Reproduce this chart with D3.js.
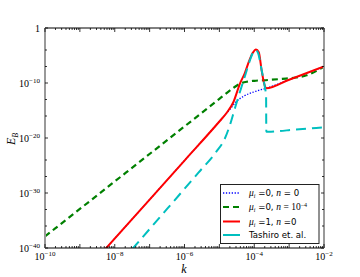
<!DOCTYPE html>
<html>
<head>
<meta charset="utf-8">
<script src="https://cdn.jsdelivr.net/npm/d3@7"></script>
<style>
  body { margin: 0; background: #fff; }
  svg { display: block; }
</style>
</head>
<body>
<svg id="chart"></svg>
<script>
// ------------------------------------------------------------- data (log10 values)
const xTickExps = [-10, -8, -6, -4, -2];
const yTickExps = [0, -10, -20, -30, -40];
const yMinorExps = [-4, -7, -13, -16, -24, -27, -33, -36];

const blueK  = [-8.3, -7, -6, -5, -4.7, -4.5, -4.3, -4.0, -3.66, -3, -2];
const blueE  = [-40.4, -31.2, -24.1, -17.0, -14.8, -13.3, -12.4, -11.6, -10.96, -9.4, -7.0];

const greenK = [-10, -8, -6, -5, -4.6, -4.4, -4.2, -4.0, -3.6, -3.2, -2.8, -2.5, -2.2, -2];
const greenE = [-37.9, -27.9, -17.9, -12.9, -10.9, -10.1, -9.75, -9.6, -9.45, -9.25, -9.0, -8.6, -7.75, -7.0];

const redK   = [-8.3, -7, -6, -5, -4.8, -4.6, -4.41, -4.27, -4.17, -4.05, -3.95, -3.87, -3.79, -3.72, -3.66, -3, -2];
const redE   = [-40.4, -31.2, -24.1, -17.0, -15.5, -13.5, -10.1, -8.2, -6.4, -4.6, -3.9, -4.4, -7.6, -10.0, -10.96, -9.4, -7.0];

const cyanK  = [-7.5, -6.5, -5.6, -5.1, -4.85, -4.7, -4.55, -4.4, -4.25, -4.12, -4.03, -3.97, -3.9, -3.79, -3.7, -3.66, -3.655, -3.6, -2.8, -2];
const cyanE  = [-40.2, -32.9, -26.3, -22.6, -20.2, -17.7, -14.5, -11.4, -8.4, -5.8, -4.4, -4.0, -4.4, -7.6, -10.6, -12.5, -18.85, -18.85, -18.45, -18.05];

const legendLabels = ["mu0n0", "mu0n4", "mu1n0", "Tashiro et. al."];

// -------------------------------------------------------------
const width  = 360;
const height = 277;
const margin = { left: 45, right: 36, top: 28, bottom: 29 };
const plotW  = width - margin.left - margin.right;
const plotH  = height - margin.top - margin.bottom;

const svg = d3.select('#chart').attr('width', width).attr('height', height);

const x = d3.scaleLog().domain([1e-10, 1e-2]).range([margin.left, margin.left + plotW]);
const y = d3.scaleLog().domain([1e-40, 1]).range([margin.top + plotH, margin.top]);

const serif = '"Liberation Serif", "DejaVu Serif", serif';
const sans  = '"DejaVu Sans", sans-serif';

const toPts = (ks, es) => ks.map((k, i) => [Math.pow(10, k), Math.pow(10, es[i])]);

svg.append('clipPath').attr('id', 'clip')
  .append('rect')
  .attr('x', margin.left).attr('y', margin.top)
  .attr('width', plotW).attr('height', plotH);

const line = d3.line()
  .x(d => x(d[0]))
  .y(d => y(d[1]))
  .curve(d3.curveMonotoneX);

const series = [
  { pts: toPts(blueK, blueE),   color: '#0000ff', w: 1.3, dash: '1.3,1.6' },
  { pts: toPts(greenK, greenE), color: '#008000', w: 2.2, dash: '6,4' },
  { pts: toPts(redK, redE),     color: '#ff0000', w: 2.0, dash: null },
  { pts: toPts(cyanK, cyanE),   color: '#00bfbf', w: 2.0, dash: '10,6' }
];

const lines = svg.append('g').attr('clip-path', 'url(#clip)');
series.forEach(s => {
  lines.append('path')
    .datum(s.pts)
    .attr('d', line)
    .attr('fill', 'none')
    .attr('stroke', s.color)
    .attr('stroke-width', s.w)
    .attr('stroke-dasharray', s.dash);
});

// ------------------------------------------------------------- frame
const x0 = margin.left, x1 = margin.left + plotW;
const y0 = margin.top,  y1 = margin.top + plotH;

svg.append('line').attr('x1', x0).attr('x2', x1).attr('y1', y0).attr('y2', y0)
  .attr('stroke', '#000').attr('stroke-width', 1);
svg.append('line').attr('x1', x0).attr('x2', x1).attr('y1', y1).attr('y2', y1)
  .attr('stroke', '#000').attr('stroke-width', 1);
[x0, x1].forEach(xx => {
  svg.append('line').attr('x1', xx).attr('x2', xx).attr('y1', y0).attr('y2', y1)
    .attr('stroke', '#999').attr('stroke-width', 2);
});

// ------------------------------------------------------------- ticks
const ticks = svg.append('g').attr('stroke', '#000').attr('stroke-width', 0.8);

const xMinor = [];
for (let e = -10; e < -2; e++) for (let m = 2; m <= 9; m++) xMinor.push(m * Math.pow(10, e));
const xMajor = d3.range(-10, -1).map(e => Math.pow(10, e));

xMajor.forEach(v => {
  ticks.append('line').attr('x1', x(v)).attr('x2', x(v)).attr('y1', y1).attr('y2', y1 - 4);
  ticks.append('line').attr('x1', x(v)).attr('x2', x(v)).attr('y1', y0).attr('y2', y0 + 4);
});
xMinor.forEach(v => {
  ticks.append('line').attr('x1', x(v)).attr('x2', x(v)).attr('y1', y1).attr('y2', y1 - 2);
  ticks.append('line').attr('x1', x(v)).attr('x2', x(v)).attr('y1', y0).attr('y2', y0 + 2);
});

yTickExps.concat(yMinorExps).forEach(e => {
  const yy = y(Math.pow(10, e));
  const len = yTickExps.includes(e) ? 3 : 2;
  ticks.append('line').attr('x1', x0).attr('x2', x0 + len).attr('y1', yy).attr('y2', yy);
  ticks.append('line').attr('x1', x1).attr('x2', x1 - len).attr('y1', yy).attr('y2', yy);
});

// ------------------------------------------------------------- tick labels
function powLabel(sel, e) {
  if (e === 0) { sel.append('tspan').text('1'); return; }
  sel.append('tspan').text('10');
  sel.append('tspan').attr('dy', -4).attr('font-size', 7).text('\u2212' + Math.abs(e));
}

xTickExps.forEach(e => {
  const t = svg.append('text')
    .attr('x', x(Math.pow(10, e))).attr('y', 260)
    .attr('text-anchor', 'middle')
    .attr('font-family', serif).attr('font-size', 10).attr('fill', '#000');
  powLabel(t, e);
});

yTickExps.forEach(e => {
  const t = svg.append('text')
    .attr('x', 40).attr('y', y(Math.pow(10, e)) + 3.5)
    .attr('text-anchor', 'end')
    .attr('font-family', serif).attr('font-size', 10).attr('fill', '#000');
  powLabel(t, e);
});

// ------------------------------------------------------------- axis labels
const yl = svg.append('text')
  .attr('transform', 'translate(15,139) rotate(-90)')
  .attr('text-anchor', 'middle')
  .attr('font-family', serif).attr('font-size', 12).attr('font-style', 'italic');
yl.append('tspan').text('E');
yl.append('tspan').attr('dy', 3).attr('font-size', 8).text('B');

svg.append('text')
  .attr('x', 184).attr('y', 273)
  .attr('text-anchor', 'middle')
  .attr('font-family', serif).attr('font-size', 12).attr('font-style', 'italic')
  .text('k');

// ------------------------------------------------------------- legend
const lg = svg.append('g');
lg.append('rect')
  .attr('x', 220.5).attr('y', 184.5).attr('width', 98.5).attr('height', 59)
  .attr('fill', '#fff').attr('stroke', '#222').attr('stroke-width', 1);

const rowY = [193, 207, 221.5, 235];
series.forEach((s, i) => {
  lg.append('line')
    .attr('x1', 223).attr('x2', 240).attr('y1', rowY[i]).attr('y2', rowY[i])
    .attr('stroke', s.color).attr('stroke-width', s.w)
    .attr('stroke-dasharray', s.dash ? (i === 3 ? null : s.dash) : null);
});

function muLabel(row, mu, nText, nSup, eqSpace) {
  const t = lg.append('text')
    .attr('x', 249).attr('y', rowY[row] + 3)
    .attr('font-family', sans).attr('font-size', 8.6).attr('fill', '#000');
  t.append('tspan').attr('font-family', serif).attr('font-style', 'italic').attr('font-size', 9.5).text('\u03bc');
  t.append('tspan').attr('font-family', serif).attr('font-style', 'italic').attr('font-size', 6).attr('dy', 2).text('i');
  t.append('tspan').attr('dy', -2).text(' =' + mu + ', ');
  t.append('tspan').attr('font-family', serif).attr('font-style', 'italic').attr('font-size', 9.5).text('n');
  if (nSup) {
    t.append('tspan').attr('font-family', serif).attr('font-size', 9.5).text(' = 10');
    t.append('tspan').attr('font-family', serif).attr('font-size', 6).attr('dy', -3).text('\u22124');
  } else {
    t.append('tspan').text(eqSpace ? ' = ' + nText : ' =' + nText);
  }
}
muLabel(0, 0, '0', false, true);
muLabel(1, 0, '', true, true);
muLabel(2, 1, '0', false, false);

lg.append('text')
  .attr('x', 249).attr('y', rowY[3] + 3)
  .attr('font-family', sans).attr('font-size', 8.6).attr('fill', '#000')
  .text(legendLabels[3]);
</script>
</body>
</html>
